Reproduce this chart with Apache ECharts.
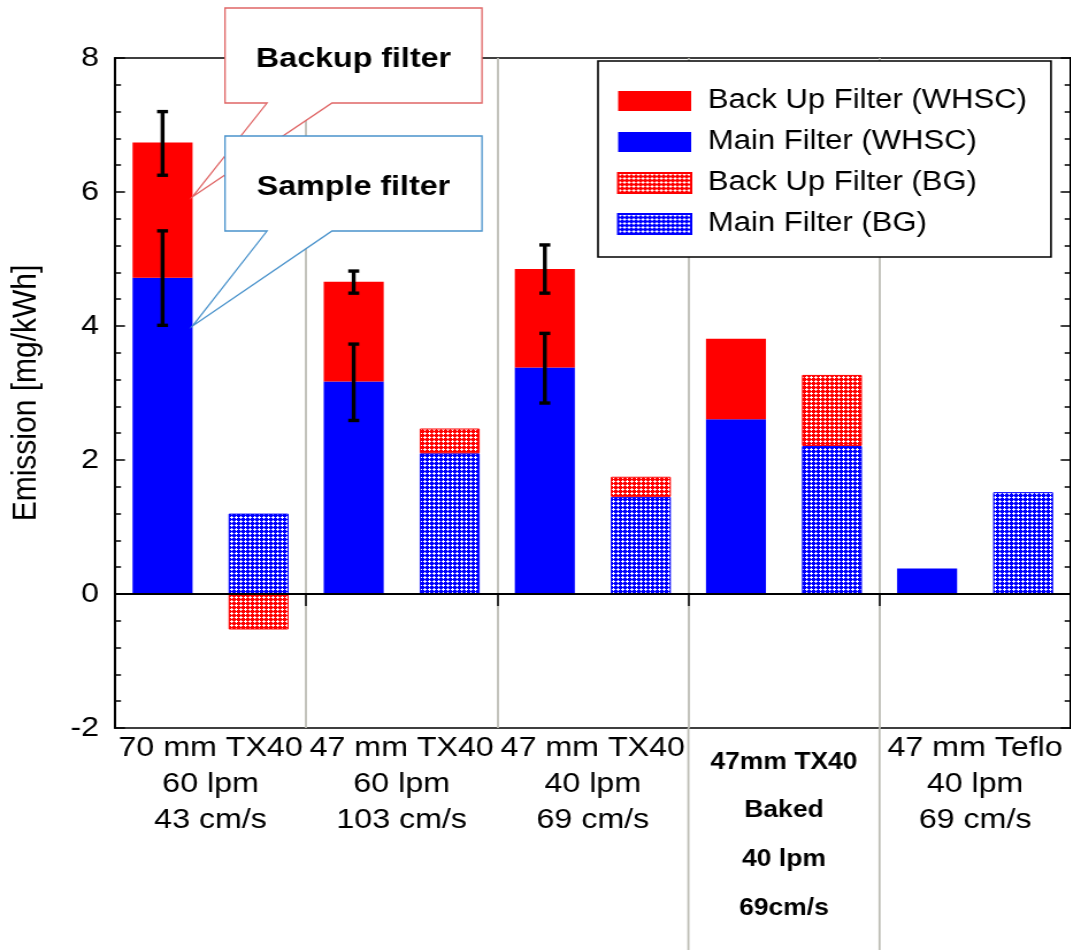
<!DOCTYPE html>
<html>
<head>
<meta charset="utf-8">
<script src="https://cdn.jsdelivr.net/npm/echarts@6/dist/echarts.min.js"></script>
<style>
html,body{margin:0;padding:0;background:#fff;overflow:hidden;}
#chart{width:931px;height:950px;transform:scaleX(1.15);transform-origin:0 0;}
</style>
</head>
<body>
<div id="chart"></div>
<script>
// ---- data ----
const labelLines = [
  ['70 mm TX40', '60 lpm', '43 cm/s'],
  ['47 mm TX40', '60 lpm', '103 cm/s'],
  ['47 mm TX40', '40 lpm', '69 cm/s'],
  ['47mm TX40', 'Baked', '40 lpm', '69cm/s'],
  ['47 mm Teflo', '40 lpm', '69 cm/s']
];
const boldLabel = [false, false, false, true, false];
const categories = labelLines.map(l => l.join(' '));

const mainWHSC   = [4.72, 3.17, 3.38, 2.61, 0.38];
const backupWHSC = [2.02, 1.49, 1.47, 1.20, '-'];
const mainBG     = [1.20, 2.10, 1.45, 2.21, 1.52];
const backupBG   = [-0.53, 0.37, 0.30, 1.06, '-'];

const errTotalLow  = [6.25, 4.49, 4.49];
const errTotalHigh = [7.20, 4.82, 5.21];
const errMainLow   = [4.01, 2.59, 2.85];
const errMainHigh  = [5.42, 3.73, 3.89];

const yTicks = {min: -2, max: 8, interval: 2};
const callouts = [
  {text: 'Backup filter', tipValue: 5.93, color: '#e06666', top: 8, bottom: 103},
  {text: 'Sample filter', tipValue: 4.0, color: '#4a93cc', top: 136, bottom: 231}
];

// ---- layout helpers (reference pixel -> unscaled) ----
const SX = 1.15;
const u = v => v / SX;
const FONT = 'Liberation Sans, Arial, sans-serif';
const barW = u(60);
const barGapRatio = 0.6;
const whscOffset = -(barW + barW * barGapRatio) / 2;

function makePattern(color) {
  const c = document.createElement('canvas');
  c.width = 4; c.height = 4;
  const g = c.getContext('2d');
  g.fillStyle = color; g.fillRect(0, 0, 4, 4);
  g.fillStyle = '#ffffff';
  [[1,0],[0,1],[1,1],[2,1],[1,2]].forEach(p => g.fillRect(p[0], p[1], 1, 1));
  return {image: c, repeat: 'repeat'};
}

const chart = echarts.init(document.getElementById('chart'), null, {renderer: 'canvas'});

function errSeries(name, low, high) {
  return {
    type: 'custom', name: name, z: 5, silent: true,
    data: low.map((l, i) => [i, l, high[i]]),
    encode: {x: 0, y: [1, 2]},
    renderItem: function (params, api) {
      const x = api.coord([api.value(0), 0])[0] + whscOffset;
      const lo = api.coord([api.value(0), api.value(1)])[1];
      const hi = api.coord([api.value(0), api.value(2)])[1];
      const hw = u(5.5);
      const st = {stroke: '#000', lineWidth: 3.4};
      return {type: 'group', children: [
        {type: 'line', shape: {x1: x, y1: lo, x2: x, y2: hi}, style: st},
        {type: 'line', shape: {x1: x - hw, y1: lo, x2: x + hw, y2: lo}, style: st},
        {type: 'line', shape: {x1: x - hw, y1: hi, x2: x + hw, y2: hi}, style: st}
      ]};
    }
  };
}

const option = {
  animation: false,
  backgroundColor: '#fff',
  grid: {left: u(112), top: 58, width: u(961), height: 670, show: true, borderColor: '#000', borderWidth: 1.5},
  legend: {
    orient: 'vertical', left: u(617), top: 86, z: 10, padding: 0,
    itemWidth: u(73), itemHeight: 20, itemGap: 11,
    icon: 'rect',
    data: ['Back Up Filter (WHSC)', 'Main Filter (WHSC)', 'Back Up Filter (BG)', 'Main Filter (BG)'],
    textStyle: {fontFamily: FONT, fontSize: 27, color: '#000', lineHeight: 30, padding: [0, 0, 0, u(11)]}
  },
  xAxis: {
    type: 'category', data: categories,
    axisLine: {lineStyle: {color: '#000', width: 2}},
    axisTick: {show: true, interval: 0, length: 12, lineStyle: {color: '#000', width: 1.5}},
    splitLine: {show: true, interval: 0, lineStyle: {color: '#bdbdb5', width: 1.8}},
    axisLabel: {
      interval: 0, margin: 2, color: '#000', fontFamily: FONT,
      formatter: function (v, i) {
        const l = labelLines[i];
        if (boldLabel[i]) return '{s| }\n{b1|' + l[0] + '}\n' + l.slice(1).map(s => '{b|' + s + '}').join('\n');
        return l.map(s => '{r|' + s + '}').join('\n');
      },
      rich: {
        r: {fontSize: 28, lineHeight: 36, fontFamily: FONT, color: '#000'},
        s: {fontSize: 2, lineHeight: 10},
        b1: {fontSize: 23, fontWeight: 'bold', lineHeight: 46, fontFamily: FONT, color: '#000'},
        b: {fontSize: 23, fontWeight: 'bold', lineHeight: 49, fontFamily: FONT, color: '#000'}
      }
    }
  },
  yAxis: [{
    type: 'value', min: yTicks.min, max: yTicks.max, interval: yTicks.interval,
    name: 'Emission [mg/kWh]', nameLocation: 'middle', nameGap: 62, nameRotate: 90,
    nameTextStyle: {fontFamily: FONT, fontSize: 30, color: '#000'},
    axisLine: {show: true, lineStyle: {color: '#000', width: 2}},
    axisTick: {show: true, inside: true, length: u(10), lineStyle: {color: '#000', width: 1.5}},
    minorTick: {show: true, splitNumber: 5, length: u(6), lineStyle: {color: '#000', width: 1.5}},
    splitLine: {show: false},
    axisLabel: {fontFamily: FONT, fontSize: 28, color: '#000', margin: u(16)}
  }, {
    type: 'value', position: 'right', min: yTicks.min, max: yTicks.max, interval: yTicks.interval,
    axisLine: {show: true, lineStyle: {color: '#000', width: 2}},
    axisTick: {show: true, inside: true, length: u(10), lineStyle: {color: '#000', width: 1.5}},
    minorTick: {show: true, splitNumber: 5, length: u(6), lineStyle: {color: '#000', width: 1.5}},
    splitLine: {show: false}, axisLabel: {show: false}
  }],
  series: [
    {
      name: 'Main Filter (WHSC)', type: 'bar', stack: 'whsc', data: mainWHSC,
      barWidth: barW, barGap: '60%',
      itemStyle: {color: '#0000ff'},
      markLine: {silent: true, symbol: 'none', label: {show: false},
        lineStyle: {color: '#000', width: 2, type: 'solid'}, data: [{yAxis: 0}]}
    },
    {name: 'Back Up Filter (WHSC)', type: 'bar', stack: 'whsc', data: backupWHSC, barWidth: barW, itemStyle: {color: '#ff0000'}},
    {name: 'Main Filter (BG)', type: 'bar', stack: 'bg', data: mainBG, barWidth: barW,
      itemStyle: {color: makePattern('#0000ff'), borderColor: '#0000ff', borderWidth: 1}},
    {name: 'Back Up Filter (BG)', type: 'bar', stack: 'bg', data: backupBG, barWidth: barW,
      itemStyle: {color: makePattern('#ff0000'), borderColor: '#ff0000', borderWidth: 1}},
    errSeries('errTotal', errTotalLow, errTotalHigh),
    errSeries('errMain', errMainLow, errMainHigh)
  ]
};
chart.setOption(option);

// ---- decorations anchored to the scales ----
const ax = {xAxisIndex: 0, yAxisIndex: 0};
const c0 = chart.convertToPixel(ax, [0, 0]);
const c1 = chart.convertToPixel(ax, [1, 0]);
const band = c1[0] - c0[0];
const graphics = [];
graphics.push({type: 'rect', z: 9, shape: {x: u(598), y: 61, width: u(1051 - 598), height: 196},
  style: {fill: '#fff', stroke: '#000', lineWidth: 1.6}});
[3, 4].forEach(i => {
  const cx = chart.convertToPixel(ax, [i, 0])[0] - band / 2;
  const yb = chart.convertToPixel(ax, [i, yTicks.min])[1];
  graphics.push({type: 'line', z: 1, shape: {x1: cx, y1: yb, x2: cx, y2: 950},
    style: {stroke: '#bdbdb5', lineWidth: 1.8}});
});
callouts.forEach(co => {
  const p = chart.convertToPixel(ax, [0, co.tipValue]);
  const tipX = p[0] + whscOffset + barW / 2;
  const tipY = p[1];
  const L = u(225), R = u(482), bl = u(267), br = u(332);
  graphics.push({type: 'polygon', z: 100, shape: {points: [[L, co.top], [R, co.top], [R, co.bottom], [br, co.bottom], [tipX, tipY], [bl, co.bottom], [L, co.bottom]]},
    style: {fill: '#fff', stroke: co.color, lineWidth: 1.3}});
  graphics.push({type: 'text', z: 101, x: (L + R) / 2, y: (co.top + co.bottom) / 2 + 4,
    style: {text: co.text, fontFamily: FONT, fontSize: 28, fontWeight: 'bold', fill: '#000', align: 'center', verticalAlign: 'middle'}});
});
chart.setOption({graphic: graphics});
</script>
</body>
</html>
